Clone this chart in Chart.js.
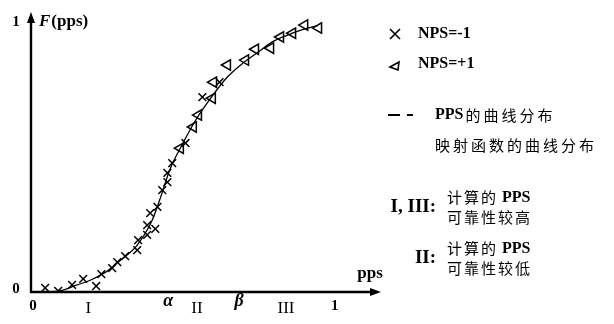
<!DOCTYPE html>
<html>
<head>
<meta charset="utf-8">
<script src="https://cdn.jsdelivr.net/npm/chart.js@4.4.0/dist/chart.umd.min.js"></script>
<style>
  html, body { margin: 0; padding: 0; background: #fff; }
</style>
</head>
<body>
<canvas id="chart" width="614" height="324"></canvas>
<script>
// NPS = -1 samples (crosses)
const crossX = [0.047, 0.090, 0.136, 0.173, 0.216, 0.233, 0.269, 0.286, 0.312, 0.352, 0.355, 0.385, 0.385, 0.412, 0.395, 0.419, 0.435, 0.452, 0.452, 0.468, 0.512, 0.568, 0.625];
const crossY = [0.015, 0.004, 0.026, 0.048, 0.022, 0.066, 0.088, 0.110, 0.132, 0.154, 0.191, 0.210, 0.246, 0.232, 0.290, 0.313, 0.375, 0.404, 0.438, 0.474, 0.548, 0.717, 0.772];

// NPS = +1 samples (triangles)
const triX = [0.495, 0.538, 0.555, 0.601, 0.605, 0.651, 0.711, 0.744, 0.794, 0.827, 0.867, 0.907, 0.953];
const triY = [0.529, 0.607, 0.651, 0.713, 0.772, 0.835, 0.853, 0.893, 0.897, 0.938, 0.952, 0.982, 0.971];

// fitted curve
const curveX = [0.05, 0.10, 0.15, 0.20, 0.25, 0.30, 0.35, 0.40, 0.43, 0.46, 0.50, 0.55, 0.60, 0.65, 0.70, 0.75, 0.80, 0.85, 0.90, 0.95];
const curveY = [0.00, 0.005, 0.025, 0.045, 0.075, 0.12, 0.17, 0.26, 0.35, 0.45, 0.54, 0.64, 0.72, 0.79, 0.84, 0.88, 0.92, 0.945, 0.965, 0.98];

// axis labels
const xTickLabels = ['0', 'I', 'α', 'II', 'β', 'III', '1'];
const xTickValues = [0, 0.19, 0.455, 0.55, 0.69, 0.845, 1.0];
const yTickLabels = ['0', '1'];
const yTickValues = [0, 1];

const legendItems = ['NPS=-1', 'NPS=+1'];
const curveLabels = ['PPS的曲线分布', '映射函数的曲线分布'];
const regionNotes = [
  { head: 'I, III:', lines: ['计算的 PPS', '可靠性较高'] },
  { head: 'II:', lines: ['计算的 PPS', '可靠性较低'] }
];

const SERIF = "'Liberation Serif', 'DejaVu Serif', serif";
const CJK = "'Noto Sans CJK SC', sans-serif";

function toPoints(xs, ys) {
  return xs.map((x, i) => ({ x: x, y: ys[i] }));
}

function drawSpaced(ctx, text, x, y, gap) {
  let cx = x;
  for (const ch of text) {
    ctx.fillText(ch, cx, y);
    cx += ctx.measureText(ch).width + (/[\u4e00-\u9fff]/.test(ch) ? gap : 0);
  }
}

const axesPlugin = {
  id: 'axesPlugin',
  afterDraw(chart) {
    const ctx = chart.ctx;
    const xs = chart.scales.x;
    const ys = chart.scales.y;
    const x0 = xs.getPixelForValue(0);
    const y0 = ys.getPixelForValue(0);
    const area = chart.chartArea;

    ctx.save();
    ctx.strokeStyle = '#000';
    ctx.fillStyle = '#000';
    ctx.lineWidth = 2.4;

    // y axis with arrow
    ctx.beginPath();
    ctx.moveTo(x0, y0 + 1);
    ctx.lineTo(x0, area.top + 8);
    ctx.stroke();
    ctx.beginPath();
    ctx.moveTo(x0, area.top);
    ctx.lineTo(x0 - 4, area.top + 11);
    ctx.lineTo(x0 + 4, area.top + 11);
    ctx.closePath();
    ctx.fill();

    // x axis with arrow
    ctx.beginPath();
    ctx.moveTo(x0 - 1, y0);
    ctx.lineTo(area.right - 8, y0);
    ctx.stroke();
    ctx.beginPath();
    ctx.moveTo(area.right, y0);
    ctx.lineTo(area.right - 11, y0 - 4);
    ctx.lineTo(area.right - 11, y0 + 4);
    ctx.closePath();
    ctx.fill();

    // y tick labels
    ctx.textBaseline = 'middle';
    ctx.textAlign = 'center';
    ctx.font = 'bold 15px ' + SERIF;
    yTickLabels.forEach((t, i) => {
      const py = ys.getPixelForValue(yTickValues[i]);
      ctx.fillText(t, 16, i === 0 ? py - 3 : py + 2);
    });

    // F(pps)
    ctx.textAlign = 'left';
    ctx.font = 'italic bold 17px ' + SERIF;
    ctx.fillText('F', 39, 22);
    const fw = ctx.measureText('F').width;
    ctx.font = 'bold 17px ' + SERIF;
    ctx.fillText('(pps)', 39 + fw + 1, 22);

    // x tick labels
    ctx.textAlign = 'center';
    xTickLabels.forEach((t, i) => {
      const px = xs.getPixelForValue(xTickValues[i]);
      if (t === 'α' || t === 'β') {
        ctx.font = 'italic bold 18px ' + SERIF;
        ctx.fillText(t, px, y0 + 9);
      } else if (t === '0' || t === '1') {
        ctx.font = 'bold 15px ' + SERIF;
        ctx.fillText(t, px + 2, y0 + 14);
      } else {
        ctx.font = '17px ' + SERIF;
        ctx.fillText(t, px, y0 + 17);
      }
    });

    // axis name
    ctx.font = 'bold 17px ' + SERIF;
    ctx.fillText('pps', 370, y0 - 18);

    // legend symbols
    const lx = 395;
    ctx.lineWidth = 1.6;
    ctx.beginPath();
    ctx.moveTo(lx - 5, 29); ctx.lineTo(lx + 5, 39);
    ctx.moveTo(lx + 5, 29); ctx.lineTo(lx - 5, 39);
    ctx.stroke();
    ctx.beginPath();
    ctx.moveTo(lx - 5, 67);
    ctx.lineTo(lx + 4, 62);
    ctx.lineTo(lx + 3, 70);
    ctx.closePath();
    ctx.stroke();

    ctx.textAlign = 'left';
    ctx.font = 'bold 16px ' + SERIF;
    ctx.fillText(legendItems[0], 418, 34);
    ctx.fillText(legendItems[1], 418, 64);

    // dash sample
    ctx.lineWidth = 2;
    ctx.beginPath();
    ctx.moveTo(388, 115); ctx.lineTo(400, 115);
    ctx.moveTo(407, 115); ctx.lineTo(413, 115);
    ctx.stroke();

    ctx.font = 'bold 16px ' + SERIF;
    ctx.fillText('PPS', 435, 115);
    const pw = ctx.measureText('PPS').width;
    ctx.font = '15px ' + CJK;
    drawSpaced(ctx, curveLabels[0].replace('PPS', ''), 435 + pw + 2, 115, 3);
    drawSpaced(ctx, curveLabels[1], 435, 145, 3);

    // region notes
    const noteY = [207, 258];
    regionNotes.forEach((n, i) => {
      ctx.textAlign = 'right';
      ctx.font = 'bold 19px ' + SERIF;
      ctx.fillText(n.head, 436, noteY[i]);
      ctx.textAlign = 'left';
      n.lines.forEach((ln, j) => {
        const ly = noteY[i] - 10 + j * 20;
        const parts = ln.split(' ');
        ctx.font = '15px ' + CJK;
        drawSpaced(ctx, parts[0], 447, ly, 2);
        if (parts[1]) {
          let w = 0;
          for (const ch of parts[0]) w += ctx.measureText(ch).width + 2;
          ctx.font = 'bold 16px ' + SERIF;
          ctx.fillText(parts[1], 447 + w + 4, ly + 1);
        }
      });
    });

    ctx.restore();
  }
};

new Chart(document.getElementById('chart'), {
  type: 'scatter',
  data: {
    datasets: [
      {
        label: 'curve',
        data: toPoints(curveX, curveY),
        showLine: true,
        borderColor: '#000',
        borderWidth: 1.3,
        pointRadius: 0,
        cubicInterpolationMode: 'monotone',
        fill: false
      },
      {
        label: 'NPS=-1',
        data: toPoints(crossX, crossY),
        pointStyle: 'crossRot',
        pointRadius: 5.5,
        borderColor: '#000',
        borderWidth: 1.5
      },
      {
        label: 'NPS=+1',
        data: toPoints(triX, triY),
        pointStyle: 'triangle',
        rotation: -90,
        pointRadius: 6,
        borderColor: '#000',
        backgroundColor: '#fff',
        borderWidth: 1.5
      }
    ]
  },
  options: {
    responsive: false,
    animation: false,
    layout: { padding: { left: 31, right: 233, top: 12, bottom: 32 } },
    scales: {
      x: { type: 'linear', min: 0, max: 1.16, display: false },
      y: { type: 'linear', min: 0, max: 1.03, display: false }
    },
    plugins: {
      legend: { display: false },
      tooltip: { enabled: false }
    }
  },
  plugins: [axesPlugin]
});
</script>
</body>
</html>
